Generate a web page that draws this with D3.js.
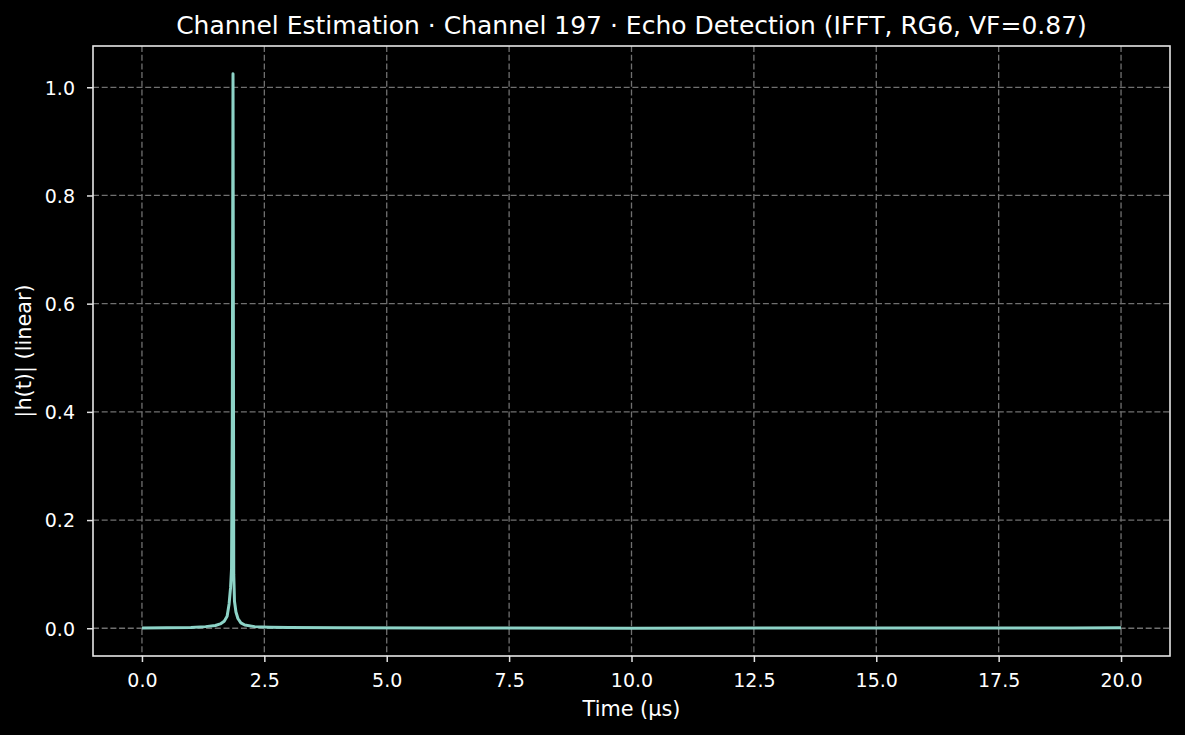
<!DOCTYPE html>
<html>
<head>
<meta charset="utf-8">
<script src="https://cdn.jsdelivr.net/npm/d3@7"></script>
<style>
  html, body { margin: 0; padding: 0; background: #000; }
  svg { display: block; }
  text { font-family: "DejaVu Sans", sans-serif; fill: #fff; }
</style>
</head>
<body>
<svg id="chart" width="1185" height="735"></svg>
<script>
// Data (time in µs, |h(t)| linear)
const timeUs = [0, 0.5, 1.0, 1.3, 1.5, 1.6, 1.68, 1.74, 1.78, 1.81, 1.83, 1.845, 1.86, 1.875, 1.89, 1.92, 1.96, 2.02, 2.1, 2.3, 2.6, 3.0, 4.0, 6.0, 10.0, 15.0, 19.0, 20.0];
const magnitude = [0.0005, 0.0008, 0.0015, 0.003, 0.005, 0.008, 0.013, 0.022, 0.045, 0.075, 0.11, 0.37, 1.025, 0.10, 0.05, 0.03, 0.018, 0.01, 0.006, 0.003, 0.002, 0.0012, 0.0007, 0.0004, 0.0002, 0.0003, 0.0005, 0.0008];
const xTicks = [0, 2.5, 5, 7.5, 10, 12.5, 15, 17.5, 20];
const yTicks = [0, 0.2, 0.4, 0.6, 0.8, 1.0];
const titleText = "Channel Estimation · Channel 197 · Echo Detection (IFFT, RG6, VF=0.87)";
const xLabel = "Time (µs)";
const yLabel = "|h(t)| (linear)";

const svg = d3.select("#chart");
const W = 1185, H = 735;
const m = { left: 93, right: 1170, top: 46, bottom: 656 };

const x = d3.scaleLinear().domain([-1, 21]).range([m.left, m.right]);
const y = d3.scaleLinear().domain([-0.0513, 1.0763]).range([m.bottom, m.top]);

svg.append("rect").attr("width", W).attr("height", H).attr("fill", "#000");

// grid
const grid = svg.append("g");
grid.selectAll("line.gx").data(xTicks).join("line")
  .attr("x1", d => x(d)).attr("x2", d => x(d))
  .attr("y1", m.top).attr("y2", m.bottom)
  .attr("stroke", "#707070").attr("stroke-width", 1.3).attr("stroke-dasharray", "6,2.7");
grid.selectAll("line.gy").data(yTicks).join("line")
  .attr("y1", d => y(d)).attr("y2", d => y(d))
  .attr("x1", m.left).attr("x2", m.right)
  .attr("stroke", "#707070").attr("stroke-width", 1.3).attr("stroke-dasharray", "6,2.7");

// line
const line = d3.line().x((d, i) => x(timeUs[i])).y(d => y(d));
svg.append("path").datum(magnitude)
  .attr("d", line)
  .attr("fill", "none")
  .attr("stroke", "#8dd3c7")
  .attr("stroke-width", 3)
  .attr("stroke-linejoin", "round")
  .attr("stroke-linecap", "butt");

// axes
const xAxis = d3.axisBottom(x).tickValues(xTicks).tickFormat(d3.format(".1f")).tickSize(6).tickPadding(5);
const yAxis = d3.axisLeft(y).tickValues(yTicks).tickFormat(d3.format(".1f")).tickSize(6).tickPadding(12);

const gx = svg.append("g").attr("transform", `translate(0,${m.bottom})`).call(xAxis);
const gy = svg.append("g").attr("transform", `translate(${m.left},0)`).call(yAxis);
[gx, gy].forEach(g => {
  g.select(".domain").remove();
  g.selectAll(".tick line").attr("stroke", "#e0e0e0").attr("stroke-width", 1.5);
  g.selectAll(".tick text").attr("fill", "#fff").style("font-size", "19px").style("font-family", "DejaVu Sans, sans-serif");
});
gx.selectAll(".tick text").attr("dy", null).attr("y", 31);
gy.selectAll(".tick text").attr("dy", "0.36em");

// frame
svg.append("rect")
  .attr("x", m.left).attr("y", m.top)
  .attr("width", m.right - m.left).attr("height", m.bottom - m.top)
  .attr("fill", "none").attr("stroke", "#e6e6e6").attr("stroke-width", 1.6);

// labels
svg.append("text").attr("x", (m.left + m.right) / 2).attr("y", 34)
  .attr("text-anchor", "middle").style("font-size", "25px").text(titleText);
svg.append("text").attr("x", (m.left + m.right) / 2).attr("y", 716)
  .attr("text-anchor", "middle").style("font-size", "20.8px").text(xLabel);
svg.append("text")
  .attr("transform", `translate(30.5,${(m.top + m.bottom) / 2}) rotate(-90)`)
  .attr("text-anchor", "middle").style("font-size", "20.8px").text(yLabel);
</script>
</body>
</html>
